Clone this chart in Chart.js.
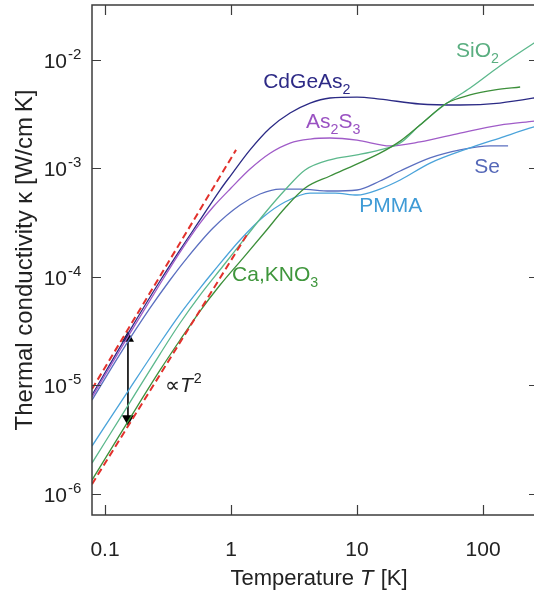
<!DOCTYPE html>
<html>
<head>
<meta charset="utf-8">
<script src="https://cdn.jsdelivr.net/npm/chart.js@4.4.1/dist/chart.umd.min.js"></script>
<style>
  html, body { margin: 0; padding: 0; background: #fff; overflow: hidden; }
  canvas { display: block; }
</style>
</head>
<body>
<canvas id="grafico" width="561" height="597"></canvas>
<script>
// === Condutividade térmica de vidros vs temperatura (log-log) ===

// Temperatura T [K] e condutividade κ [W/cm K]
const cdgeas2T = [0.0788, 0.158, 0.273, 0.394, 0.568, 0.818, 1.0, 1.415, 2.04, 2.94, 4.24, 6.1, 10, 15.2, 31.6, 65.7, 136, 254, 275];
const cdgeas2K = [8.09e-6, 3.21e-5, 9.09e-5, 1.76e-4, 3.32e-4, 6.27e-4, 8.61e-4, 1.47e-3, 2.34e-3, 3.21e-3, 3.97e-3, 4.42e-3, 4.51e-3, 4.32e-3, 3.89e-3, 3.81e-3, 3.97e-3, 4.42e-3, 4.5e-3];

const as2s3T = [0.0788, 0.158, 0.273, 0.394, 0.568, 0.72, 1.0, 1.415, 2.04, 2.94, 4.24, 6.1, 10, 18.3, 31.6, 65.7, 136, 254, 275];
const as2s3K = [7.74e-6, 3.01e-5, 8.53e-5, 1.68e-4, 3.11e-4, 4.37e-4, 6.54e-4, 9.79e-4, 1.37e-3, 1.70e-3, 1.85e-3, 1.89e-3, 1.81e-3, 1.60e-3, 1.74e-3, 2.10e-3, 2.49e-3, 2.71e-3, 2.74e-3];

const seT = [0.0788, 0.1315, 0.228, 0.328, 0.447, 0.72, 1.18, 1.70, 2.45, 3.53, 6.1, 10, 15.2, 22, 38, 65.7, 114, 158];
const seK = [7.27e-6, 1.93e-5, 5.13e-5, 9.29e-5, 1.48e-4, 2.80e-4, 4.56e-4, 5.76e-4, 6.40e-4, 6.40e-4, 6.14e-4, 6.27e-4, 7.59e-4, 9.38e-4, 1.24e-3, 1.47e-3, 1.60e-3, 1.60e-3];

const pmmaT = [0.0788, 0.158, 0.273, 0.394, 0.568, 0.72, 1.18, 1.80, 2.68, 4.24, 6.69, 10, 15.2, 22, 38, 74.6, 136, 254, 275];
const pmmaK = [2.74e-6, 9.38e-6, 2.44e-5, 4.51e-5, 7.83e-5, 1.10e-4, 2.17e-4, 3.53e-4, 4.86e-4, 5.88e-4, 5.88e-4, 5.64e-4, 6.40e-4, 7.75e-4, 1.11e-3, 1.50e-3, 1.89e-3, 2.39e-3, 2.44e-3];

const sio2T = [0.0788, 0.158, 0.273, 0.394, 0.568, 0.864, 1.29, 1.86, 2.68, 3.87, 6.1, 10, 15.2, 22, 31.6, 51.8, 78.9, 136, 254, 275];
const sio2K = [1.91e-6, 6.97e-6, 1.93e-5, 3.73e-5, 6.75e-5, 1.25e-4, 2.26e-4, 3.85e-4, 6.27e-4, 9.59e-4, 1.19e-3, 1.32e-3, 1.47e-3, 1.70e-3, 2.49e-3, 3.97e-3, 5.46e-3, 8.71e-3, 1.42e-2, 1.51e-2];

const cakno3T = [0.0788, 0.158, 0.273, 0.394, 0.568, 0.818, 1.245, 1.86, 2.68, 3.87, 6.1, 9.64, 15.2, 22, 31.6, 51.8, 78.9, 124.5, 197];
const cakno3K = [1.33e-6, 4.96e-6, 1.37e-5, 2.60e-5, 4.81e-5, 8.35e-5, 1.48e-4, 2.57e-4, 4.28e-4, 6.54e-4, 8.44e-4, 1.07e-3, 1.37e-3, 1.77e-3, 2.49e-3, 3.97e-3, 4.71e-3, 5.24e-3, 5.58e-3];

// Retas tracejadas ∝ T² (limites superior e inferior)
const ajusteSupT = [0.0788, 1.096];
const ajusteSupK = [9.18e-6, 1.47e-3];
const ajusteInfT = [0.0788, 1.364];
const ajusteInfK = [1.22e-6, 2.52e-4];

// Seta dupla vertical
const setaT = [0.152, 0.152];
const setaK = [2.7e-5, 4.9e-6];

// Ticks dos eixos
const xDecadas = [0.1, 1, 10, 100];
const xRotulos = ['0.1', '1', '10', '100'];
const yDecadas = [1e-6, 1e-5, 1e-4, 1e-3, 1e-2];
const yExpoentes = ['-6', '-5', '-4', '-3', '-2'];

const FONTE = '"Liberation Sans", Arial, Helvetica, sans-serif';

// Rótulos das curvas: [texto, 0 normal / 1 subscrito / 2 sobrescrito / 3 itálico]
const rotulos = [
  { partes: [['CdGeAs', 0], ['2', 1]], t: 1.8, k: 5.46e-3, cor: '#2d2a86' },
  { partes: [['As', 0], ['2', 1], ['S', 0], ['3', 1]], t: 3.94, k: 2.34e-3, cor: '#9a52c2' },
  { partes: [['SiO', 0], ['2', 1]], t: 61, k: 1.05e-2, cor: '#5aae80' },
  { partes: [['Ca,KNO', 0], ['3', 1]], t: 1.02, k: 9.09e-5, cor: '#3f963c' },
  { partes: [['Se', 0]], t: 85, k: 8.99e-4, cor: '#5568b8' },
  { partes: [['PMMA', 0]], t: 10.4, k: 3.93e-4, cor: '#3f9bd6' },
  { partes: [['\u221d', 0], ['T', 3], ['2', 2]], t: 0.299, k: 8.62e-6, cor: '#222' }
];

function serie(T, K, cor, extra) {
  return Object.assign({
    data: T.map((t, i) => ({ x: t, y: K[i] })),
    borderColor: cor,
    borderWidth: 1.3,
    pointRadius: 0,
    fill: false,
    cubicInterpolationMode: 'monotone'
  }, extra || {});
}

function fonte(tipo, tam) {
  if (tipo === 1 || tipo === 2) return (tam * 0.68) + 'px ' + FONTE;
  if (tipo === 3) return 'italic ' + tam + 'px ' + FONTE;
  return tam + 'px ' + FONTE;
}

function larguraTexto(ctx, partes, tam) {
  let w = 0;
  partes.forEach(([txt, tipo]) => {
    ctx.font = fonte(tipo, tam);
    w += ctx.measureText(txt).width + (tipo === 3 ? 1 : 0);
  });
  return w;
}

function desenhaTexto(ctx, partes, x, y, tam) {
  partes.forEach(([txt, tipo]) => {
    const dy = tipo === 1 ? tam * 0.28 : (tipo === 2 ? -tam * 0.42 : 0);
    ctx.font = fonte(tipo, tam);
    ctx.fillText(txt, x, y + dy);
    x += ctx.measureText(txt).width + (tipo === 3 ? 1 : 0);
  });
}

// Moldura, ticks internos, rótulos do eixo y e títulos
const moldura = {
  id: 'moldura',
  afterDraw(chart) {
    const { ctx, chartArea: a, scales: { x, y } } = chart;
    ctx.save();
    ctx.strokeStyle = '#3c3c3c';
    ctx.lineWidth = 1.5;
    ctx.strokeRect(a.left, a.top, a.right - a.left, a.bottom - a.top);
    ctx.beginPath();
    xDecadas.forEach(v => {
      const px = Math.round(x.getPixelForValue(v)) + 0.5;
      ctx.moveTo(px, a.bottom); ctx.lineTo(px, a.bottom - 10);
      ctx.moveTo(px, a.top); ctx.lineTo(px, a.top + 10);
    });
    yDecadas.forEach(v => {
      const py = Math.round(y.getPixelForValue(v)) + 0.5;
      ctx.moveTo(a.left, py); ctx.lineTo(a.left + 9, py);
      ctx.moveTo(a.right, py); ctx.lineTo(a.right - 9, py);
    });
    ctx.lineWidth = 1.2;
    ctx.stroke();

    // rótulos 10^n do eixo y
    ctx.fillStyle = '#222';
    ctx.textBaseline = 'alphabetic';
    yDecadas.forEach((v, i) => {
      const py = y.getPixelForValue(v);
      ctx.font = '21px ' + FONTE;
      ctx.textAlign = 'right';
      ctx.fillText('10', a.left - 25, py + 8);
      ctx.font = '15px ' + FONTE;
      ctx.textAlign = 'left';
      ctx.fillText(yExpoentes[i], a.left - 24, py - 1);
    });

    // título do eixo x
    ctx.textAlign = 'left';
    const tituloX = [['Temperature ', 0], ['T', 3], [' [K]', 0]];
    const wx = larguraTexto(ctx, tituloX, 22);
    desenhaTexto(ctx, tituloX, 319 - wx / 2, 585, 22);

    // título do eixo y
    ctx.save();
    ctx.translate(32, (a.top + a.bottom) / 2);
    ctx.rotate(-Math.PI / 2);
    ctx.font = '24px ' + FONTE;
    ctx.textAlign = 'center';
    ctx.fillText('Thermal conductivity \u03ba [W/cm\u2009K]', 0, 0);
    ctx.restore();

    // rótulos das curvas
    ctx.textAlign = 'left';
    rotulos.forEach(r => {
      ctx.fillStyle = r.cor;
      desenhaTexto(ctx, r.partes, x.getPixelForValue(r.t), y.getPixelForValue(r.k), 21);
    });
    ctx.restore();
  }
};

const data = {
  datasets: [
    serie(ajusteSupT, ajusteSupK, '#e2312c', { borderDash: [7, 4], borderWidth: 2, cubicInterpolationMode: 'default' }),
    serie(ajusteInfT, ajusteInfK, '#e2312c', { borderDash: [7, 4], borderWidth: 2, cubicInterpolationMode: 'default' }),
    serie(cakno3T, cakno3K, '#3c8f3a'),
    serie(sio2T, sio2K, '#5cb88c'),
    serie(pmmaT, pmmaK, '#4aa3da'),
    serie(seT, seK, '#5b6fc0'),
    serie(as2s3T, as2s3K, '#a05cc8'),
    serie(cdgeas2T, cdgeas2K, '#2b2a85'),
    serie(setaT, setaK, '#000', {
      borderWidth: 1.6,
      pointRadius: 7,
      pointStyle: 'triangle',
      pointRotation: [0, 180],
      pointBackgroundColor: '#000',
      pointBorderColor: '#000',
      pointBorderWidth: 0,
      cubicInterpolationMode: 'default'
    })
  ]
};

const config = {
  type: 'line',
  data: data,
  options: {
    responsive: false,
    animation: false,
    events: [],
    layout: { autoPadding: false, padding: { top: 5, right: 0, left: 0, bottom: 0 } },
    plugins: { legend: { display: false }, tooltip: { enabled: false } },
    scales: {
      x: {
        type: 'logarithmic',
        min: 0.0788,
        max: 273,
        grid: { display: false, drawTicks: false },
        border: { display: false },
        ticks: {
          autoSkip: false,
          maxRotation: 0,
          padding: 23,
          color: '#222',
          font: { family: FONTE, size: 21 },
          callback: function (value) {
            const i = xDecadas.findIndex(d => Math.abs(Math.log10(value) - Math.log10(d)) < 1e-6);
            return i >= 0 ? xRotulos[i] : '';
          }
        },
        afterFit: s => { s.height = 82; }
      },
      y: {
        type: 'logarithmic',
        min: 6.34e-7,
        max: 0.0318,
        grid: { display: false, drawTicks: false },
        border: { display: false },
        ticks: { display: false },
        afterFit: s => { s.width = 92; }
      }
    }
  },
  plugins: [moldura]
};

new Chart(document.getElementById('grafico'), config);
</script>
</body>
</html>
